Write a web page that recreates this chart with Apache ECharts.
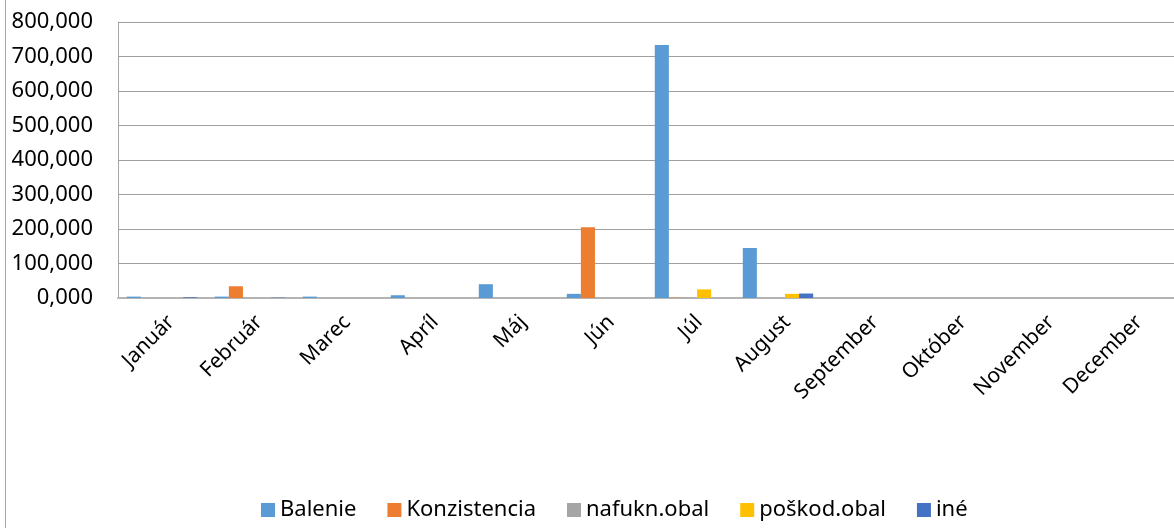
<!DOCTYPE html>
<html>
<head>
<meta charset="utf-8">
<script src="https://cdn.jsdelivr.net/npm/echarts@6/dist/echarts.min.js"></script>
<style>
  html, body { margin: 0; padding: 0; background: #fff; }
  #chart { width: 1174px; height: 528px; }
</style>
</head>
<body>
<div id="chart"></div>
<script>
// mesiace (kategórie)
var months = ['Január', 'Február', 'Marec', 'Apríl', 'Máj', 'Jún', 'Júl', 'August', 'September', 'Október', 'November', 'December'];

// hodnoty odčítané z grafu
var balenie      = [4, 4, 4, 8, 40, 12, 733, 145, 0, 0, 0, 0];
var konzistencia = [0, 34, 0, 0, 0, 205, 1, 0, 0, 0, 0, 0];
var nafuknObal   = [0, 0, 0, 0, 0, 0, 1, 0, 0, 0, 0, 0];
var poskodObal   = [0, 0, 0, 0, 0, 0, 25, 12, 0, 0, 0, 0];
var ine          = [2, 1, 0, 0, 0, 0, 0, 13, 0, 0, 0, 0];

var yTicks = { min: 0, max: 800, interval: 100 };

(function () {
  var myChart = echarts.init(document.getElementById('chart'));
  var font = 'Noto Sans';

  var option = {
    animation: false,
    color: ['#5B9BD5', '#ED7D31', '#A5A5A5', '#FFC000', '#4472C4'],
    textStyle: { fontFamily: font },
    // rámček grafu vľavo
    graphic: [{
      type: 'line',
      shape: { x1: 5.5, y1: 0, x2: 5.5, y2: 528 },
      style: { stroke: '#a6a6a6', lineWidth: 1 }
    }],
    legend: {
      bottom: 2,
      left: 256,
      icon: 'rect',
      itemWidth: 14,
      itemHeight: 14,
      itemGap: 31,
      textStyle: { fontFamily: font, fontSize: 22, color: '#000' }
    },
    grid: {
      left: 118,
      right: 0,
      top: 22,
      bottom: 230,
      containLabel: false
    },
    xAxis: {
      type: 'category',
      data: months,
      axisTick: { show: false },
      axisLine: { lineStyle: { color: '#b4b4b4', width: 2 } },
      axisLabel: {
        rotate: 45,
        interval: 0,
        margin: 30,
        padding: [0, -13, 0, 0],
        color: '#000',
        fontFamily: font,
        fontSize: 21
      }
    },
    yAxis: {
      type: 'value',
      min: yTicks.min,
      max: yTicks.max,
      interval: yTicks.interval,
      axisLine: { show: true, lineStyle: { color: '#a6a6a6', width: 1 } },
      axisTick: { show: false },
      axisLabel: {
        margin: 25,
        color: '#000',
        fontFamily: font,
        fontSize: 22,
        formatter: function (v) { return v.toFixed(3).replace('.', ','); }
      },
      splitLine: { lineStyle: { color: '#a0a0a0', width: 1 } }
    },
    series: [
      { name: 'Balenie', type: 'bar', data: balenie, barGap: '0%', barCategoryGap: '20%' },
      { name: 'Konzistencia', type: 'bar', data: konzistencia, barGap: '0%', barCategoryGap: '20%' },
      { name: 'nafukn.obal', type: 'bar', data: nafuknObal, barGap: '0%', barCategoryGap: '20%' },
      { name: 'poškod.obal', type: 'bar', data: poskodObal, barGap: '0%', barCategoryGap: '20%' },
      { name: 'iné', type: 'bar', data: ine, barGap: '0%', barCategoryGap: '20%' }
    ]
  };

  myChart.setOption(option);
  window.addEventListener('resize', function () {
    myChart.resize();
  });
})();
</script>
</body>
</html>
